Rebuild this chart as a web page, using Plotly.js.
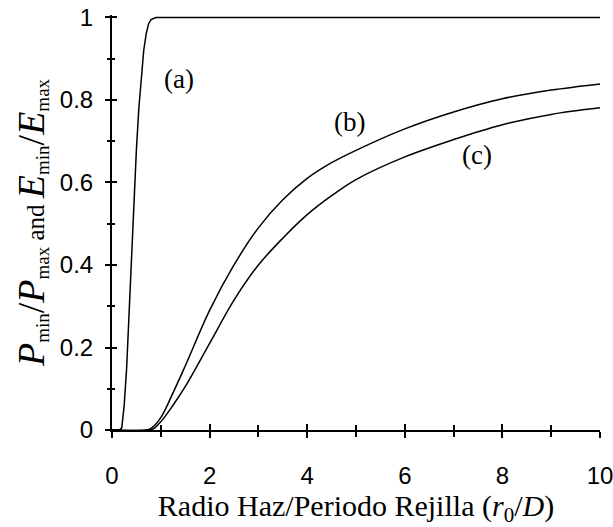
<!DOCTYPE html>
<html>
<head>
<meta charset="utf-8">
<script src="https://cdn.plot.ly/plotly-3.0.1.min.js"></script>
<style>html,body{margin:0;padding:0;background:#fff;}</style>
</head>
<body>
<div id="chart" style="width:613px;height:527px;"></div>
<script>
// Curve (a)
const xA = [0, 0.15, 0.2, 0.25, 0.3, 0.35, 0.4, 0.45, 0.5, 0.55, 0.6, 0.65, 0.7, 0.75, 0.8, 0.9, 1.0, 10];
const yA = [0, 0, 0.005, 0.06, 0.15, 0.28, 0.43, 0.57, 0.68, 0.78, 0.86, 0.92, 0.96, 0.985, 0.995, 1, 1, 1];
// Curve (b)
const xB = [0, 0.7, 0.8, 1.0, 1.25, 1.5, 2.0, 2.5, 3.0, 3.5, 4.0, 4.5, 5.0, 6.0, 7.0, 8.0, 9.0, 10];
const yB = [0, 0, 0.004, 0.03, 0.09, 0.155, 0.29, 0.40, 0.49, 0.558, 0.61, 0.648, 0.678, 0.730, 0.771, 0.803, 0.824, 0.839];
// Curve (c)
const xC = [0, 0.75, 0.85, 1.0, 1.25, 1.5, 2.0, 2.5, 3.0, 3.5, 4.0, 4.5, 5.0, 6.0, 7.0, 8.0, 9.0, 10];
const yC = [0, 0, 0.003, 0.02, 0.06, 0.105, 0.21, 0.315, 0.40, 0.465, 0.522, 0.568, 0.607, 0.662, 0.704, 0.740, 0.765, 0.781];

const labels = ['(a)', '(b)', '(c)'];
const labelX = [1.38, 4.87, 7.47];
const labelY = [0.85, 0.747, 0.667];

const xTicks = [0, 2, 4, 6, 8, 10];
const yTicks = [0, 0.2, 0.4, 0.6, 0.8, 1];

const line = {color: '#000', width: 1.5};
const traces = [
  {x: xA, y: yA, mode: 'lines', line: line, hoverinfo: 'skip'},
  {x: xB, y: yB, mode: 'lines', line: Object.assign({shape: 'spline', smoothing: 1}, line), hoverinfo: 'skip'},
  {x: xC, y: yC, mode: 'lines', line: Object.assign({shape: 'spline', smoothing: 1}, line), hoverinfo: 'skip'},
  {x: [null], y: [null], xaxis: 'x2', yaxis: 'y2', mode: 'lines', hoverinfo: 'skip'}
];

const tickFont = {family: '"Liberation Sans", Arial, sans-serif', size: 24, color: '#000'};
const serif = '"Liberation Serif", "Times New Roman", serif';

const big = s => '<span style="font-size:38px">' + s + '</span>';
const sb = s => '<sub><span style="font-size:19px">' + s + '</span></sub>';
const yTitle = big('<i>P</i>') + sb('min') + big('/<i>P</i>') + sb('max') + ' and ' +
               big('<i>E</i>') + sb('min') + big('/<i>E</i>') + sb('max');

const layout = {
  width: 613, height: 527,
  margin: {l: 112, r: 13, t: 15, b: 97, pad: 0},
  paper_bgcolor: '#fff', plot_bgcolor: '#fff',
  showlegend: false,
  xaxis: {
    range: [0, 10], tickvals: xTicks, ticktext: xTicks.map(String),
    ticks: 'outside', ticklen: 6, tickwidth: 2, tickcolor: '#000',
    minor: {dtick: 1, ticks: 'outside', ticklen: 5, tickwidth: 2, tickcolor: '#000'},
    showline: true, linecolor: '#000', linewidth: 2,
    showgrid: false, zeroline: false, tickfont: tickFont, ticklabelstandoff: 17,
    ticklabeloverflow: 'allow',
    title: {text: 'Radio Haz/Periodo Rejilla (<i>r</i><sub>0</sub>/<i>D</i>)', font: {family: serif, size: 30, color: '#000'}, standoff: 3},
    fixedrange: true
  },
  xaxis2: {
    range: [0, 10], overlaying: 'x', anchor: 'y2', side: 'bottom', tickvals: xTicks,
    ticks: 'inside', ticklen: 6, tickwidth: 2, tickcolor: '#000',
    minor: {dtick: 1, ticks: 'inside', ticklen: 5, tickwidth: 2, tickcolor: '#000'},
    showticklabels: false, showline: false, showgrid: false, zeroline: false, fixedrange: true
  },
  yaxis: {
    range: [0, 1.006], tickvals: yTicks,
    ticks: 'outside', ticklen: 5, tickwidth: 2, tickcolor: '#000',
    minor: {dtick: 0.1, ticks: 'outside', ticklen: 3, tickwidth: 2, tickcolor: '#000'},
    showline: true, linecolor: '#000', linewidth: 2,
    showgrid: false, zeroline: false, tickfont: tickFont, ticklabelstandoff: 7,
    ticklabeloverflow: 'allow',
    title: {text: yTitle, font: {family: serif, size: 25, color: '#000'}, standoff: 8},
    fixedrange: true
  },
  yaxis2: {
    range: [0, 1.006], overlaying: 'y', anchor: 'x2', side: 'left', tickvals: yTicks,
    ticks: 'inside', ticklen: 5, tickwidth: 2, tickcolor: '#000',
    minor: {dtick: 0.1, ticks: 'inside', ticklen: 3, tickwidth: 2, tickcolor: '#000'},
    showticklabels: false, showline: false, showgrid: false, zeroline: false, fixedrange: true
  },
  annotations: labels.map((t, i) => ({
    text: t, x: labelX[i], y: labelY[i], xref: 'x', yref: 'y', showarrow: false,
    font: {family: serif, size: 27, color: '#000'}
  }))
};

Plotly.newPlot('chart', traces, layout, {displayModeBar: false, staticPlot: true});
</script>
</body>
</html>
